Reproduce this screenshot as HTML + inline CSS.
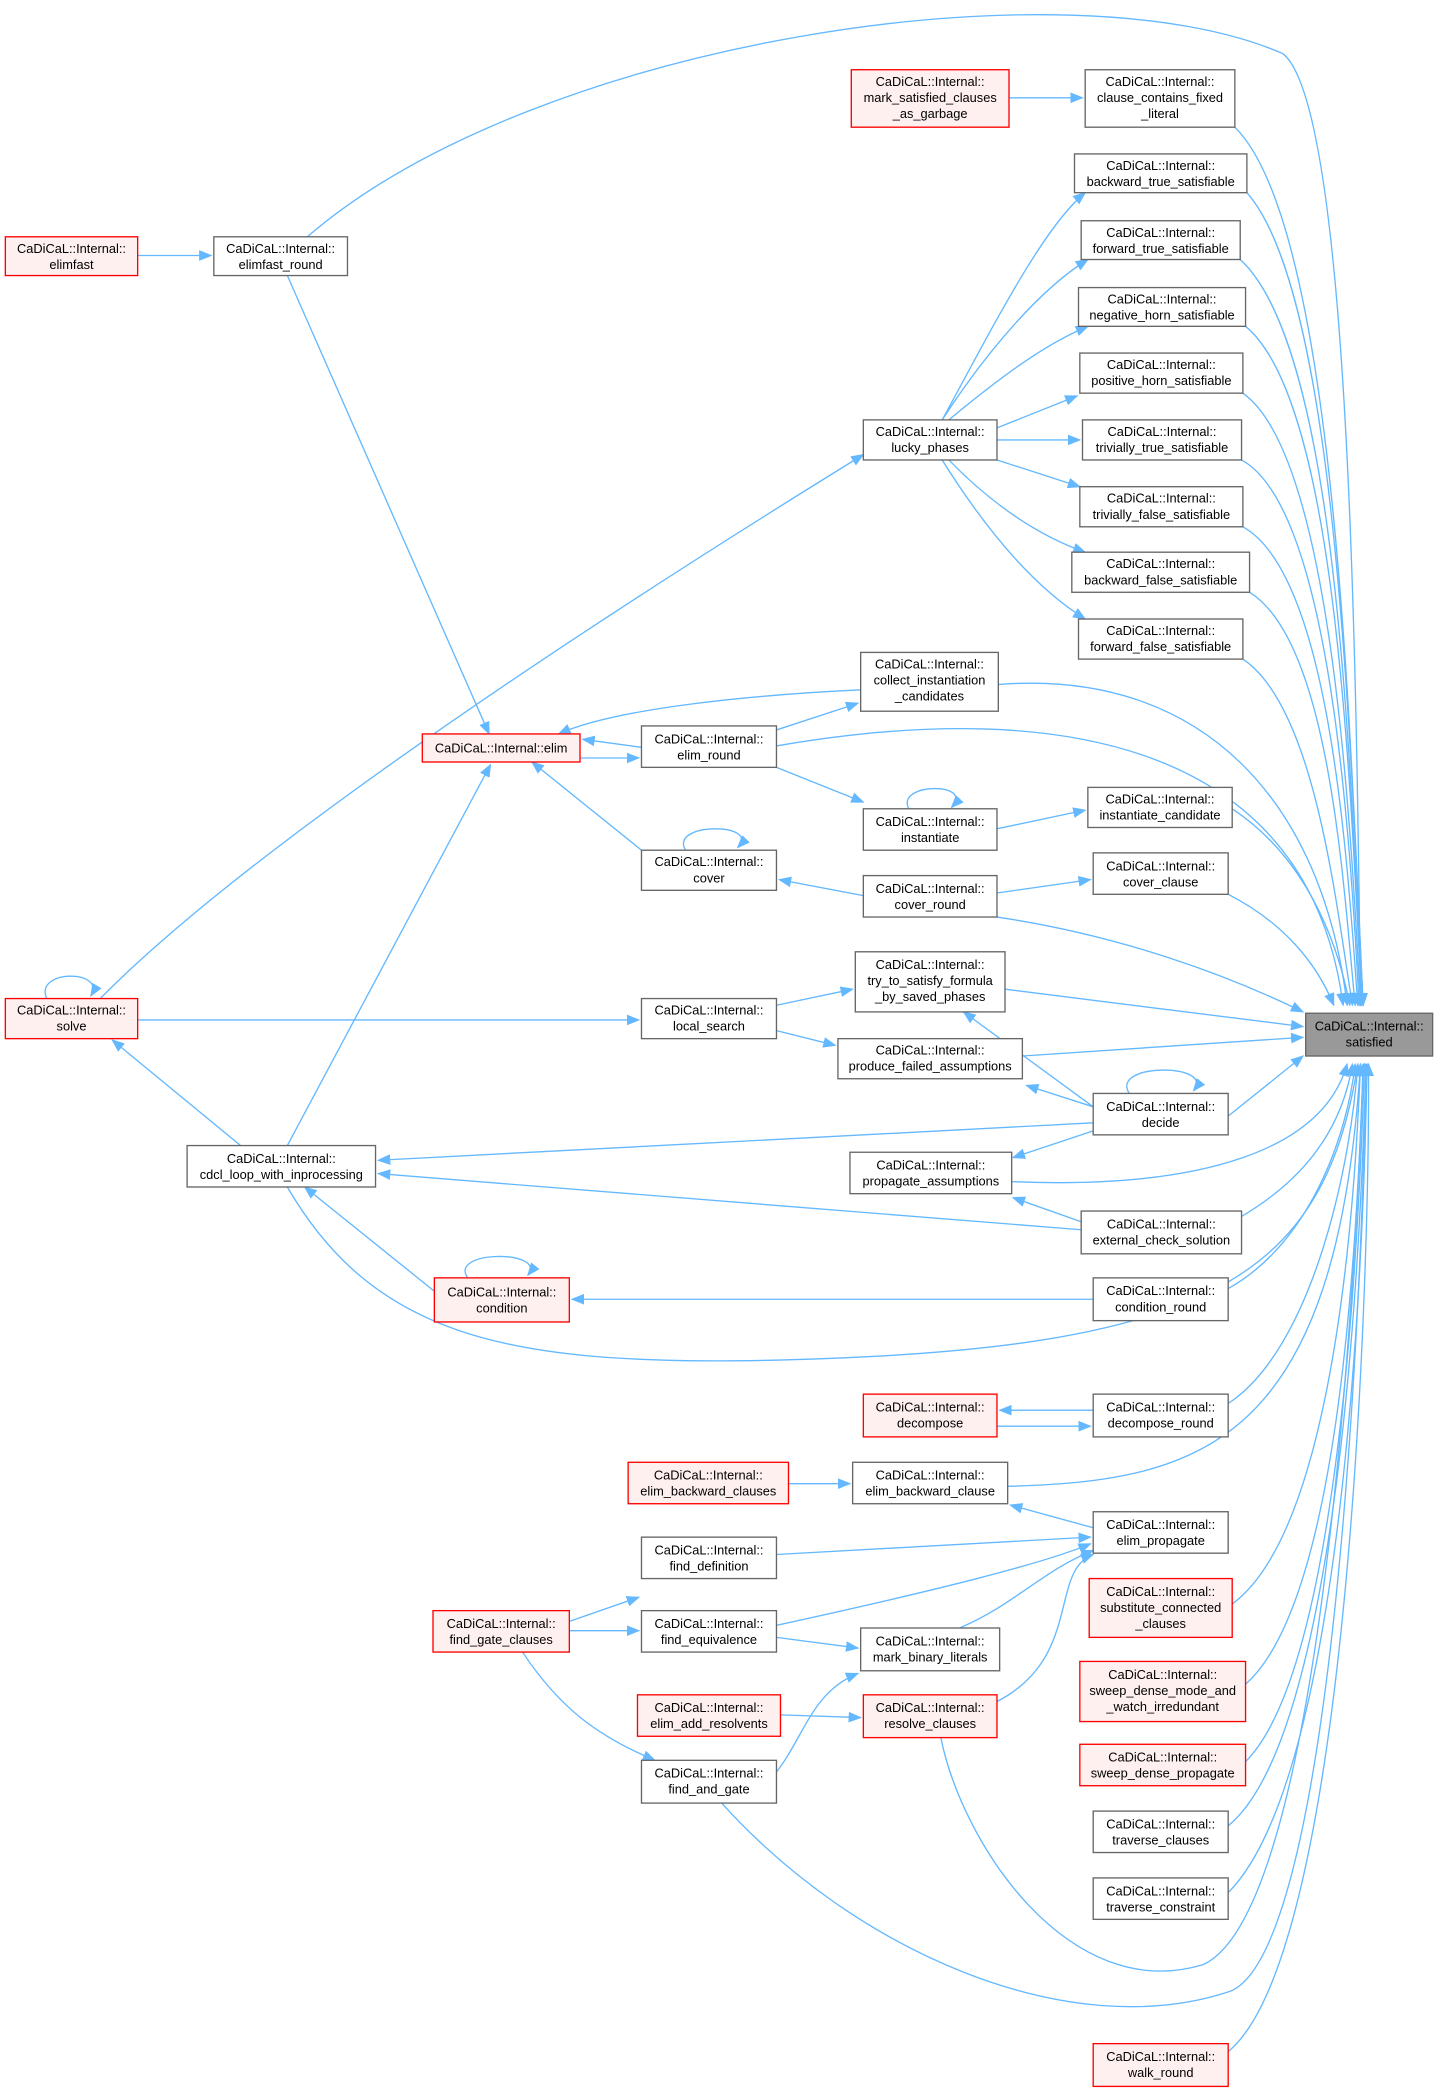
<!DOCTYPE html>
<html><head><meta charset="utf-8"><style>
html,body{margin:0;padding:0;background:#fff}
svg{display:block}
text{font-family:"Liberation Sans",Arial,sans-serif;font-size:9.6px;fill:#000;text-anchor:middle}
.e{fill:none;stroke:#63b8ff;stroke-width:1}
.n{fill:#fff;stroke:#666;stroke-width:1}
.r{fill:#fff0f0;stroke:#ff0000;stroke-width:1}
.g{fill:#999;stroke:#666;stroke-width:1}
</style></head><body>
<svg width="1438" height="2096" viewBox="0 0 1076 1568" xmlns="http://www.w3.org/2000/svg">
<defs><marker id="a" markerWidth="10" markerHeight="8" refX="9" refY="4" orient="auto" markerUnits="userSpaceOnUse"><polygon points="0,0 10,4 0,8" fill="#63b8ff"/></marker></defs>
<g class="e" marker-end="url(#a)">
<path d="M103,191 L158,191"/>
<path d="M230,177 C400,30 800,-30 960,40 C1010,80 1015,500 1018,752"/>
<path d="M755,73 L810,73"/>
<path d="M924,95 C1000,170 1010,550 1020,752"/>
<path d="M933,144 C1000,220 1010,550 1020,752"/>
<path d="M928,194 C1000,260 1010,560 1019,752"/>
<path d="M932,244 C1000,300 1010,580 1019,752"/>
<path d="M930,294 C995,340 1010,600 1018,752"/>
<path d="M929,344 C995,380 1010,620 1017,752"/>
<path d="M930,394 C995,430 1008,640 1016,752"/>
<path d="M935,443 C995,480 1005,660 1014,752"/>
<path d="M930,493 C985,530 1000,680 1012,752"/>
<path d="M705,314 C740,250 780,170 812,144"/>
<path d="M705,314 C740,260 780,215 814,194"/>
<path d="M710,314 C745,285 780,258 814,244"/>
<path d="M746,320 L806,296"/>
<path d="M746,329 L808,329"/>
<path d="M746,344 L808,364"/>
<path d="M710,344 C740,375 775,400 812,413"/>
<path d="M705,344 C740,400 775,440 812,463"/>
<path d="M75,747 C200,620 500,430 646,340"/>
<path d="M215,206 L366,549"/>
<path d="M644,516 C560,520 460,530 418,549"/>
<path d="M581,546 L642,526"/>
<path d="M480,559 L436,553"/>
<path d="M434,567 L478,567"/>
<path d="M581,574 L646,600"/>
<path d="M746,620 L812,606"/>
<path d="M680,605 C670,585 730,585 712,604"/>
<path d="M480,636 L398,570"/>
<path d="M513,636 C500,615 570,615 552,634"/>
<path d="M646,670 L583,658"/>
<path d="M746,668 L816,658"/>
<path d="M746,686 C840,700 920,730 975,757"/>
<path d="M747,512 C900,500 990,600 1008,752"/>
<path d="M581,558 C800,520 980,560 1005,752"/>
<path d="M922,605 C975,640 1000,700 1010,752"/>
<path d="M919,669 C960,690 985,720 998,752"/>
<path d="M103,763 L478,763"/>
<path d="M581,752 L638,740"/>
<path d="M581,771 L625,782"/>
<path d="M752,740 L975,768"/>
<path d="M765,790 L975,776"/>
<path d="M180,857 L84,778"/>
<path d="M215,857 L367,572"/>
<path d="M35,747 C25,725 80,725 68,745"/>
<path d="M818,828 L721,757"/>
<path d="M818,828 L768,812"/>
<path d="M818,840 L283,868"/>
<path d="M818,846 L758,866"/>
<path d="M845,818 C830,795 910,795 893,816"/>
<path d="M919,835 L975,790"/>
<path d="M757,884 C900,890 990,860 1008,796"/>
<path d="M809,914 L758,896"/>
<path d="M809,920 L283,878"/>
<path d="M929,910 C980,880 1005,840 1012,796"/>
<path d="M325,966 L228,888"/>
<path d="M350,956 C335,935 410,935 395,954"/>
<path d="M818,972 L428,972"/>
<path d="M919,964 C980,930 1008,850 1014,796"/>
<path d="M215,888 C280,1000 380,1020 560,1018 C900,1012 990,960 1016,796"/>
<path d="M818,1055 L748,1055"/>
<path d="M746,1067 L816,1067"/>
<path d="M919,1050 C980,1010 1010,880 1016,796"/>
<path d="M590,1110 L636,1110"/>
<path d="M818,1143 L756,1126"/>
<path d="M754,1112 C900,1108 1000,1080 1018,796"/>
<path d="M581,1163 L816,1150"/>
<path d="M581,1216 C700,1190 780,1170 816,1155"/>
<path d="M426,1213 L478,1195"/>
<path d="M426,1220 L478,1220"/>
<path d="M391,1236 C420,1280 450,1300 490,1317"/>
<path d="M581,1225 L642,1233"/>
<path d="M584,1283 L644,1285"/>
<path d="M718,1218 C760,1200 780,1175 818,1160"/>
<path d="M746,1273 C810,1240 785,1175 818,1163"/>
<path d="M550,1349 C600,1330 595,1270 642,1252"/>
<path d="M922,1200 C990,1150 1012,950 1018,796"/>
<path d="M932,1260 C1000,1200 1015,950 1020,796"/>
<path d="M932,1318 C1000,1250 1016,950 1021,796"/>
<path d="M919,1366 C1000,1300 1018,950 1022,796"/>
<path d="M919,1416 C1005,1330 1020,950 1023,796"/>
<path d="M919,1535 C1010,1460 1025,950 1024,796"/>
<path d="M704,1300 C720,1380 800,1500 900,1470 C990,1430 1015,950 1020,796"/>
<path d="M540,1349 C640,1460 800,1530 920,1490 C1000,1460 1020,950 1022,796"/>
</g>
<g>
<rect class="r" x="4" y="177" width="99" height="29"/><text x="53.5" y="189">CaDiCaL::Internal::</text><text x="53.5" y="201">elimfast</text>
<rect class="n" x="160" y="177" width="100" height="29"/><text x="210" y="189">CaDiCaL::Internal::</text><text x="210" y="201">elimfast_round</text>
<rect class="r" x="637" y="52" width="118" height="43"/><text x="696" y="64">CaDiCaL::Internal::</text><text x="696" y="76">mark_satisfied_clauses</text><text x="696" y="88">_as_garbage</text>
<rect class="n" x="812" y="52" width="112" height="43"/><text x="868" y="64">CaDiCaL::Internal::</text><text x="868" y="76">clause_contains_fixed</text><text x="868" y="88">_literal</text>
<rect class="n" x="804" y="115" width="129" height="29"/><text x="868.5" y="127">CaDiCaL::Internal::</text><text x="868.5" y="139">backward_true_satisfiable</text>
<rect class="n" x="809" y="165" width="119" height="29"/><text x="868.5" y="177">CaDiCaL::Internal::</text><text x="868.5" y="189">forward_true_satisfiable</text>
<rect class="n" x="807" y="215" width="125" height="29"/><text x="869.5" y="227">CaDiCaL::Internal::</text><text x="869.5" y="239">negative_horn_satisfiable</text>
<rect class="n" x="808" y="264" width="122" height="30"/><text x="869" y="276">CaDiCaL::Internal::</text><text x="869" y="288">positive_horn_satisfiable</text>
<rect class="n" x="810" y="314" width="119" height="30"/><text x="869.5" y="326">CaDiCaL::Internal::</text><text x="869.5" y="338">trivially_true_satisfiable</text>
<rect class="n" x="808" y="364" width="122" height="30"/><text x="869" y="376">CaDiCaL::Internal::</text><text x="869" y="388">trivially_false_satisfiable</text>
<rect class="n" x="802" y="413" width="133" height="30"/><text x="868.5" y="425">CaDiCaL::Internal::</text><text x="868.5" y="437">backward_false_satisfiable</text>
<rect class="n" x="807" y="463" width="123" height="30"/><text x="868.5" y="475">CaDiCaL::Internal::</text><text x="868.5" y="487">forward_false_satisfiable</text>
<rect class="n" x="646" y="314" width="100" height="30"/><text x="696" y="326">CaDiCaL::Internal::</text><text x="696" y="338">lucky_phases</text>
<rect class="n" x="644" y="488" width="103" height="44"/><text x="695.5" y="500">CaDiCaL::Internal::</text><text x="695.5" y="512">collect_instantiation</text><text x="695.5" y="524">_candidates</text>
<rect class="r" x="316" y="549" width="118" height="21"/><text x="375" y="563">CaDiCaL::Internal::elim</text>
<rect class="n" x="480" y="543" width="101" height="31"/><text x="530.5" y="556">CaDiCaL::Internal::</text><text x="530.5" y="568">elim_round</text>
<rect class="n" x="814" y="589" width="108" height="30"/><text x="868" y="601">CaDiCaL::Internal::</text><text x="868" y="613">instantiate_candidate</text>
<rect class="n" x="646" y="605" width="100" height="31"/><text x="696" y="618">CaDiCaL::Internal::</text><text x="696" y="630">instantiate</text>
<rect class="n" x="480" y="636" width="101" height="30"/><text x="530.5" y="648">CaDiCaL::Internal::</text><text x="530.5" y="660">cover</text>
<rect class="n" x="818" y="638" width="101" height="31"/><text x="868.5" y="651">CaDiCaL::Internal::</text><text x="868.5" y="663">cover_clause</text>
<rect class="n" x="646" y="655" width="100" height="31"/><text x="696" y="668">CaDiCaL::Internal::</text><text x="696" y="680">cover_round</text>
<rect class="n" x="640" y="712" width="112" height="45"/><text x="696" y="725">CaDiCaL::Internal::</text><text x="696" y="737">try_to_satisfy_formula</text><text x="696" y="749">_by_saved_phases</text>
<rect class="n" x="480" y="747" width="101" height="30"/><text x="530.5" y="759">CaDiCaL::Internal::</text><text x="530.5" y="771">local_search</text>
<rect class="r" x="4" y="747" width="99" height="30"/><text x="53.5" y="759">CaDiCaL::Internal::</text><text x="53.5" y="771">solve</text>
<rect class="n" x="627" y="777" width="138" height="30"/><text x="696" y="789">CaDiCaL::Internal::</text><text x="696" y="801">produce_failed_assumptions</text>
<rect class="g" x="977" y="758" width="95" height="32"/><text x="1024.5" y="771">CaDiCaL::Internal::</text><text x="1024.5" y="783">satisfied</text>
<rect class="n" x="818" y="818" width="101" height="31"/><text x="868.5" y="831">CaDiCaL::Internal::</text><text x="868.5" y="843">decide</text>
<rect class="n" x="140" y="857" width="141" height="31"/><text x="210.5" y="870">CaDiCaL::Internal::</text><text x="210.5" y="882">cdcl_loop_with_inprocessing</text>
<rect class="n" x="636" y="862" width="121" height="31"/><text x="696.5" y="875">CaDiCaL::Internal::</text><text x="696.5" y="887">propagate_assumptions</text>
<rect class="n" x="809" y="906" width="120" height="32"/><text x="869" y="919">CaDiCaL::Internal::</text><text x="869" y="931">external_check_solution</text>
<rect class="r" x="325" y="956" width="101" height="33"/><text x="375.5" y="970">CaDiCaL::Internal::</text><text x="375.5" y="982">condition</text>
<rect class="n" x="818" y="956" width="101" height="32"/><text x="868.5" y="969">CaDiCaL::Internal::</text><text x="868.5" y="981">condition_round</text>
<rect class="r" x="646" y="1043" width="100" height="32"/><text x="696" y="1056">CaDiCaL::Internal::</text><text x="696" y="1068">decompose</text>
<rect class="n" x="818" y="1043" width="101" height="32"/><text x="868.5" y="1056">CaDiCaL::Internal::</text><text x="868.5" y="1068">decompose_round</text>
<rect class="r" x="470" y="1094" width="120" height="31"/><text x="530" y="1107">CaDiCaL::Internal::</text><text x="530" y="1119">elim_backward_clauses</text>
<rect class="n" x="638" y="1094" width="116" height="31"/><text x="696" y="1107">CaDiCaL::Internal::</text><text x="696" y="1119">elim_backward_clause</text>
<rect class="n" x="480" y="1150" width="101" height="31"/><text x="530.5" y="1163">CaDiCaL::Internal::</text><text x="530.5" y="1175">find_definition</text>
<rect class="n" x="818" y="1131" width="101" height="31"/><text x="868.5" y="1144">CaDiCaL::Internal::</text><text x="868.5" y="1156">elim_propagate</text>
<rect class="r" x="324" y="1205" width="102" height="31"/><text x="375" y="1218">CaDiCaL::Internal::</text><text x="375" y="1230">find_gate_clauses</text>
<rect class="n" x="480" y="1205" width="101" height="31"/><text x="530.5" y="1218">CaDiCaL::Internal::</text><text x="530.5" y="1230">find_equivalence</text>
<rect class="r" x="815" y="1181" width="107" height="44"/><text x="868.5" y="1194">CaDiCaL::Internal::</text><text x="868.5" y="1206">substitute_connected</text><text x="868.5" y="1218">_clauses</text>
<rect class="n" x="644" y="1218" width="104" height="32"/><text x="696" y="1231">CaDiCaL::Internal::</text><text x="696" y="1243">mark_binary_literals</text>
<rect class="r" x="477" y="1268" width="107" height="31"/><text x="530.5" y="1281">CaDiCaL::Internal::</text><text x="530.5" y="1293">elim_add_resolvents</text>
<rect class="r" x="646" y="1268" width="100" height="32"/><text x="696" y="1281">CaDiCaL::Internal::</text><text x="696" y="1293">resolve_clauses</text>
<rect class="n" x="480" y="1317" width="101" height="32"/><text x="530.5" y="1330">CaDiCaL::Internal::</text><text x="530.5" y="1342">find_and_gate</text>
<rect class="r" x="808" y="1243" width="124" height="45"/><text x="870" y="1256">CaDiCaL::Internal::</text><text x="870" y="1268">sweep_dense_mode_and</text><text x="870" y="1280">_watch_irredundant</text>
<rect class="r" x="808" y="1305" width="124" height="31"/><text x="870" y="1318">CaDiCaL::Internal::</text><text x="870" y="1330">sweep_dense_propagate</text>
<rect class="n" x="818" y="1355" width="101" height="31"/><text x="868.5" y="1368">CaDiCaL::Internal::</text><text x="868.5" y="1380">traverse_clauses</text>
<rect class="n" x="818" y="1405" width="101" height="31"/><text x="868.5" y="1418">CaDiCaL::Internal::</text><text x="868.5" y="1430">traverse_constraint</text>
<rect class="r" x="818" y="1529" width="101" height="32"/><text x="868.5" y="1542">CaDiCaL::Internal::</text><text x="868.5" y="1554">walk_round</text>
</g>
</svg>
</body></html>
